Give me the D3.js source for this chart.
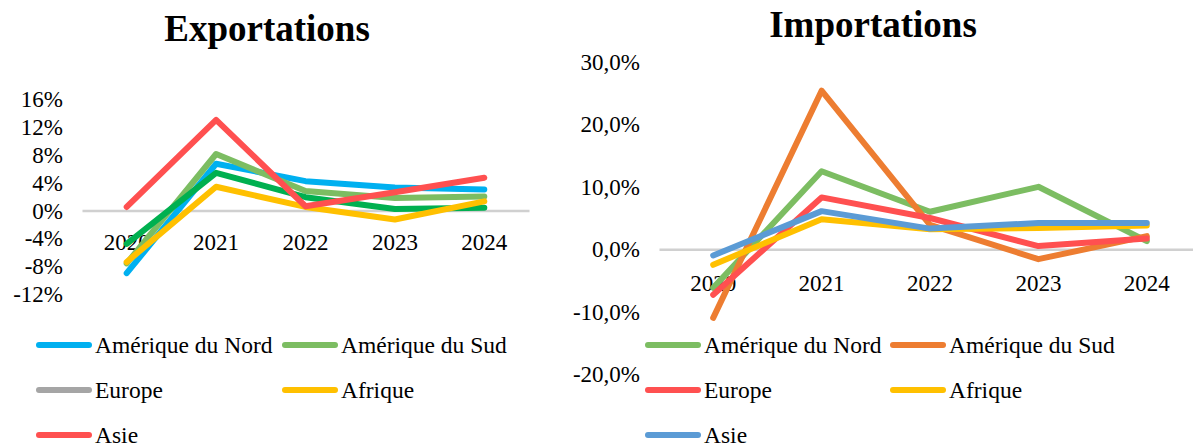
<!DOCTYPE html>
<html>
<head>
<meta charset="utf-8">
<script src="https://cdn.jsdelivr.net/npm/d3@7"></script>
</head>
<body style="margin:0">
<svg id="chart" width="1193" height="445"></svg>
<script>
// Years on the category axis
const years = ["2020", "2021", "2022", "2023", "2024"];

// Export growth by region (%)
const exportRegions = ["Amérique du Nord", "Amérique du Sud", "Europe", "Afrique", "Asie"];
const exportNord   = [-9.0, 6.7, 4.2, 3.3, 3.0];
const exportSud    = [-7.6, 8.1, 2.8, 1.8, 2.0];
const exportEurope = [-4.8, 5.4, 1.9, 0.2, 0.4];
const exportAfrique = [-7.4, 3.4, 0.5, -1.3, 1.3];
const exportAsie   = [0.5, 13.0, 0.6, 2.6, 4.7];
const exportTicks = [-12, -8, -4, 0, 4, 8, 12, 16];

// Import growth by region (%)
const importRegions = ["Amérique du Nord", "Amérique du Sud", "Europe", "Afrique", "Asie"];
const importNord   = [-6.2, 12.5, 6.0, 10.0, 1.3];
const importSud    = [-11.0, 25.4, 3.9, -1.6, 2.1];
const importEurope = [-7.3, 8.3, 5.0, 0.5, 1.7];
const importAfrique = [-2.5, 4.8, 3.2, 3.4, 3.8];
const importAsie   = [-1.0, 6.1, 3.3, 4.2, 4.2];
const importTicks = [-20, -10, 0, 10, 20, 30];

const FONT = "Liberation Serif";
const TICK_PX = 23, LEGEND_PX = 23.5;
const svg = d3.select("#chart");

// Plain serif label helper
function label(sel, px) {
  return sel.style("font-family", FONT).style("font-size", px + "px")
    .style("font-weight", "normal").attr("fill", "#000");
}

function drawPanel(cfg) {
  const g = svg.append("g");
  const x = d3.scaleBand().domain(years).range(cfg.xRange).paddingInner(0).paddingOuter(0);
  const y = d3.scaleLinear().domain(cfg.yDomain).range(cfg.yRange);

  // Legend: two columns, three rows
  cfg.names.forEach((name, k) => {
    const col = k % 2, row = Math.floor(k / 2);
    const lx = cfg.legendX[col], ly = cfg.legendY[row];
    g.append("line")
      .attr("x1", lx + 3).attr("x2", lx + cfg.swatchW - 3)
      .attr("y1", ly).attr("y2", ly)
      .attr("stroke", cfg.legendColors[k])
      .attr("stroke-width", 6)
      .attr("stroke-linecap", "round");
    label(g.append("text"), LEGEND_PX)
      .attr("x", lx + cfg.swatchW + 3).attr("y", ly + LEGEND_PX * 0.34)
      .text(name);
  });

  // Value axis (labels only)
  const ya = g.append("g")
    .attr("transform", `translate(${cfg.xRange[0]},0)`)
    .call(d3.axisLeft(y).tickValues(cfg.ticks).tickSize(0).tickPadding(19).tickFormat(cfg.fmt));
  ya.attr("font-family", null).attr("font-size", null);
  ya.select(".domain").remove();
  label(ya.selectAll("text"), TICK_PX).attr("dy", null).attr("y", TICK_PX * 0.33);

  // Category axis sitting on the zero line
  const xa = g.append("g")
    .attr("transform", `translate(0,${y(0)})`)
    .call(d3.axisBottom(x).tickSize(0).tickSizeOuter(0).tickPadding(cfg.yearPad));
  xa.attr("font-family", null).attr("font-size", null);
  xa.select(".domain").attr("stroke", "#d0d0d0").attr("stroke-width", 2.5);
  label(xa.selectAll("text"), TICK_PX).attr("dy", null).attr("y", cfg.yearPad + TICK_PX * 0.71);

  // Series lines
  const line = d3.line()
    .x((d, i) => x(years[i]) + x.bandwidth() / 2)
    .y(d => y(d));
  cfg.series.forEach((s, k) => {
    g.append("path")
      .datum(s)
      .attr("d", line)
      .attr("fill", "none")
      .attr("stroke", cfg.lineColors[k])
      .attr("stroke-width", 6)
      .attr("stroke-linecap", "round")
      .attr("stroke-linejoin", "round");
  });
}

function drawTitle(text, tx, ty) {
  svg.append("text")
    .attr("x", tx).attr("y", ty)
    .attr("text-anchor", "middle")
    .style("font-family", FONT)
    .style("font-size", "37px").style("font-weight", "bold")
    .attr("fill", "#000")
    .text(text);
}

drawPanel({
  xRange: [82, 529], yDomain: [-12, 16], yRange: [294, 99],
  ticks: exportTicks, fmt: d => d + "%", yearPad: 23,
  series: [exportNord, exportSud, exportEurope, exportAfrique, exportAsie],
  names: exportRegions,
  lineColors: ["#00b0f0", "#7cbd62", "#00b050", "#ffc000", "#ff5050"],
  legendColors: ["#00b0f0", "#7cbd62", "#a5a5a5", "#ffc000", "#ff5050"],
  legendX: [36, 282], legendY: [345, 390, 435], swatchW: 56
});

drawPanel({
  xRange: [659, 1201], yDomain: [-20, 30], yRange: [374, 62],
  ticks: importTicks, fmt: d => d.toFixed(1).replace(".", ",") + "%", yearPad: 25,
  series: [importNord, importSud, importEurope, importAfrique, importAsie],
  names: importRegions,
  lineColors: ["#7cbd62", "#ed7d31", "#ff5050", "#ffc000", "#5b9bd5"],
  legendColors: ["#7cbd62", "#ed7d31", "#ff5050", "#ffc000", "#5b9bd5"],
  legendX: [645, 890], legendY: [345, 390, 435], swatchW: 56
});

drawTitle("Exportations", 267, 41);
drawTitle("Importations", 873, 37);
</script>
</body>
</html>
